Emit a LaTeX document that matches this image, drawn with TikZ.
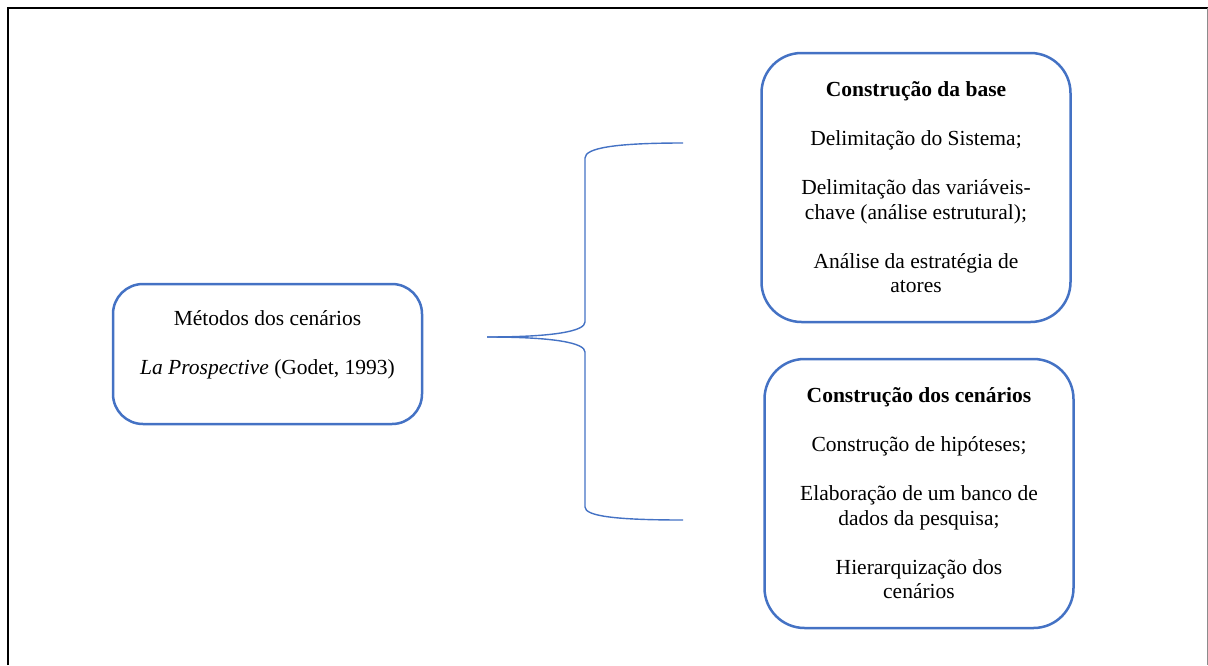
\documentclass[tikz,border=0pt]{standalone}
\usepackage{fontspec}
\setmainfont{Liberation Serif}
\definecolor{boxblue}{HTML}{4472C4}
\begin{document}
\begin{tikzpicture}[x=1pt,y=-1pt,
  box/.style={draw=boxblue, line width=2.5pt, inner sep=0pt, minimum width=309pt, minimum height=269pt, rounded corners=40pt},
  txt/.style={align=center, inner sep=0pt, font=\fontsize{21.5pt}{24.5pt}\selectfont},
  brace/.style={draw=boxblue, line width=1.4pt}]
\useasboundingbox (0,0) rectangle (1208,665);
% frame
\draw[line width=2.8pt] (8,665) -- (8,8) -- (1208,8);
\draw[black!45, line width=1pt] (1207.5,8) -- (1207.5,665);
% boxes
\node[box, minimum height=140pt, rounded corners=30pt] (m) at (267.5,354) {};
\node[txt] (mt) at ([yshift=9pt]m.center) {Métodos dos cenários\\[24.5pt]\textit{La Prospective} (Godet, 1993)};
\node[box, txt] (b) at (916,187.5) {\textbf{Construção da base}\\[24.5pt]Delimitação do Sistema;\\[24.5pt]Delimitação das variáveis-\\chave (análise estrutural);\\[24.5pt]Análise da estratégia de\\atores};
\node[box, txt] (c) at (919,493.5) {\textbf{Construção dos cenários}\\[24.5pt]Construção de hipóteses;\\[24.5pt]Elaboração de um banco de\\dados da pesquisa;\\[24.5pt]Hierarquização dos\\cenários};
% brace
\coordinate (tip) at (487,337);
\coordinate (top) at (683,143);
\coordinate (bot) at (683,520);
\draw[brace] (tip) .. controls (555,337) and (585,331) .. (585,322) -- (585,158) .. controls (585,148) and (615,143) .. (top);
\draw[brace] (tip) .. controls (555,337) and (585,343) .. (585,352) -- (585,507) .. controls (585,516) and (615,520) .. (bot);
\end{tikzpicture}
\end{document}
